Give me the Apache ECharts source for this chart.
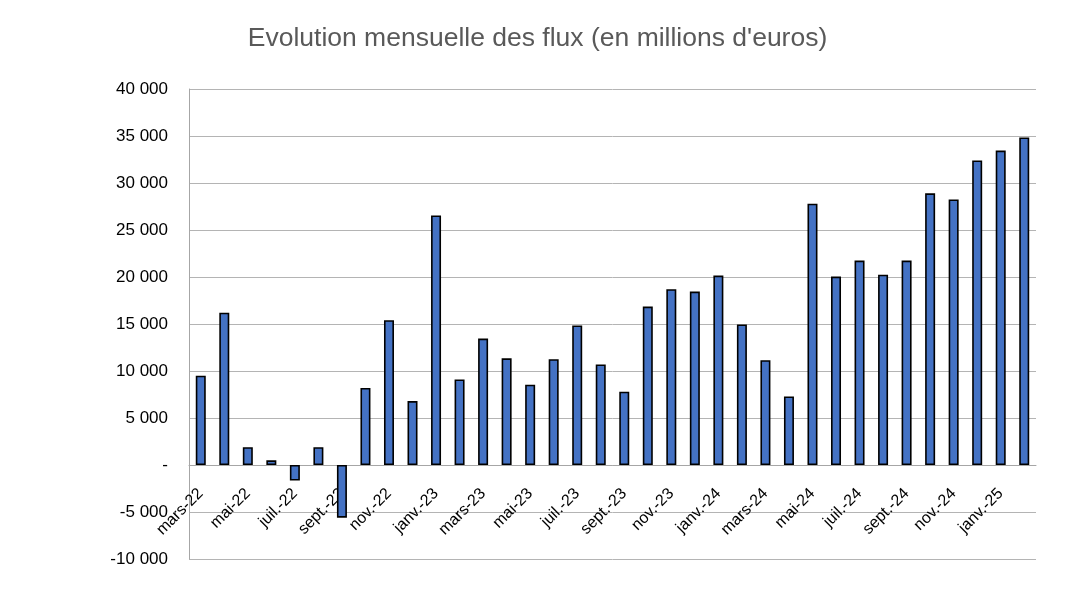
<!DOCTYPE html>
<html>
<head>
<meta charset="utf-8">
<script src="https://cdn.jsdelivr.net/npm/echarts@6/dist/echarts.min.js"></script>
<style>
html,body{margin:0;padding:0;background:#fff;}
#chart{width:1075px;height:594px;}
</style>
</head>
<body>
<div id="chart"></div>
<script>
const categories = [
  "mars-22","avr.-22","mai-22","juin-22","juil.-22","août-22","sept.-22","oct.-22","nov.-22","déc.-22",
  "janv.-23","févr.-23","mars-23","avr.-23","mai-23","juin-23","juil.-23","août-23","sept.-23","oct.-23",
  "nov.-23","déc.-23","janv.-24","févr.-24","mars-24","avr.-24","mai-24","juin-24","juil.-24","août-24",
  "sept.-24","oct.-24","nov.-24","déc.-24","janv.-25","févr.-25"
];
const flux = [
  9500, 16200, 1900, 500, -1650, 1900, -5600, 8200, 15400, 6800,
  26550, 9100, 13450, 11350, 8550, 11250, 14850, 10700, 7800, 16850,
  18700, 18450, 20150, 14950, 11150, 7300, 27800, 20050, 21750, 20250,
  21750, 28900, 28250, 32400, 33450, 34850
];
const yTicks = { min: -10000, max: 40000, interval: 5000 };
const title = "Evolution mensuelle des flux (en millions d'euros)";

function fmt(v) {
  if (v === 0) return "-";
  const s = Math.abs(v).toString().replace(/\B(?=(\d{3})+(?!\d))/g, " ");
  return (v < 0 ? "-" : "") + s;
}

const gridTop = 89, gridBottom = 35, H = 594;
const plotH = H - gridTop - gridBottom;
// distance from bottom of plot to the zero line, derived from the axis range
const zeroOffset = plotH * (0 - yTicks.min) / (yTicks.max - yTicks.min);

const chart = echarts.init(document.getElementById('chart'), null, {renderer: 'canvas'});
chart.setOption({
  animation: false,
  backgroundColor: '#ffffff',
  title: {
    text: title,
    left: 'center',
    top: 20,
    textStyle: { fontFamily: 'Liberation Sans', fontSize: 26.5, fontWeight: 'normal', color: '#595959' }
  },
  grid: { left: 189, right: 39, top: gridTop, bottom: gridBottom, containLabel: false },
  xAxis: {
    type: 'category',
    data: categories,
    position: 'bottom',
    offset: -zeroOffset,
    axisLine: { onZero: false, lineStyle: { color: '#a6a6a6', width: 1 } },
    axisTick: { show: false },
    axisLabel: {
      interval: 1,
      rotate: 45,
      margin: 26,
      padding: [0, 0, 0, 0],
      fontFamily: 'Liberation Sans',
      fontSize: 16,
      color: '#000000'
    },
    splitLine: { show: false }
  },
  yAxis: {
    type: 'value',
    min: yTicks.min,
    max: yTicks.max,
    interval: yTicks.interval,
    axisLine: { show: true, lineStyle: { color: '#a6a6a6', width: 1 } },
    axisTick: { show: false },
    axisLabel: {
      formatter: fmt,
      margin: 21,
      fontFamily: 'Liberation Sans',
      fontSize: 17,
      color: '#000000'
    },
    splitLine: { show: true, lineStyle: { color: '#b4b4b4', width: 1 } }
  },
  series: [{
    type: 'bar',
    data: flux,
    barWidth: 10,
    itemStyle: { color: '#4472C4', borderColor: '#000000', borderWidth: 1.6 }
  }]
});
</script>
</body>
</html>
